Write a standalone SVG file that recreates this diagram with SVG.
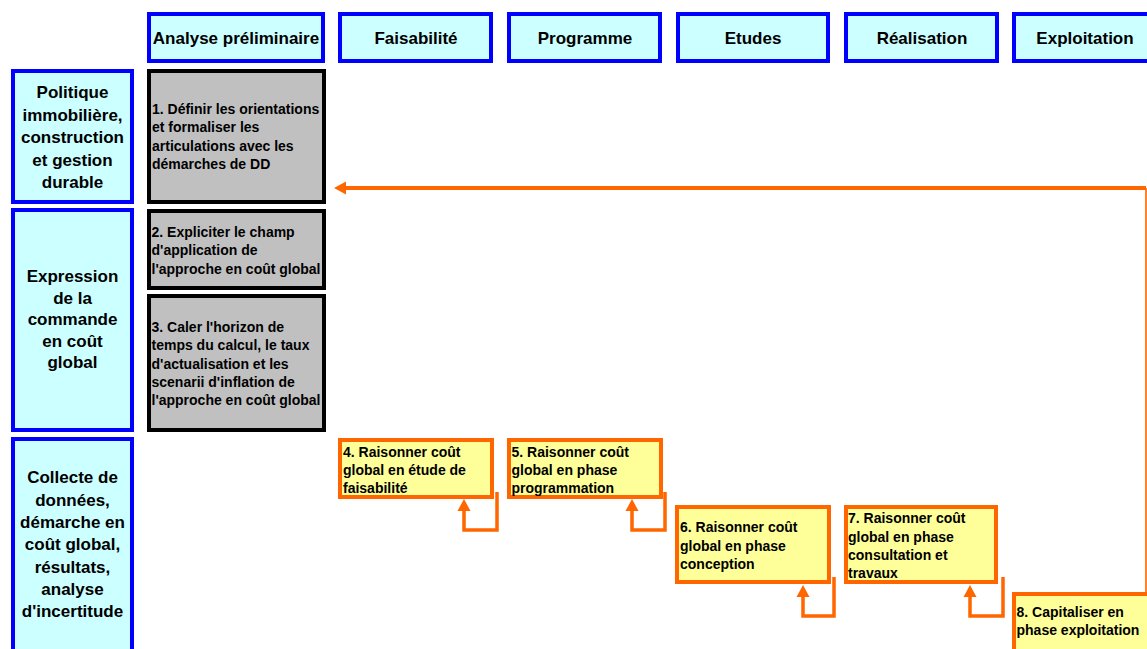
<svg xmlns="http://www.w3.org/2000/svg" width="1147" height="649" viewBox="0 0 1147 649">
<style>
text{font-family:"Liberation Sans",Arial,sans-serif;font-weight:bold;fill:#000}
.hdr rect,.row rect{fill:#CCFFFF;stroke:#0000FF;stroke-width:4}
.hdr text{font-size:17px;text-anchor:middle}
.row text{font-size:17px;text-anchor:middle}
.gray rect{fill:#C0C0C0;stroke:#000;stroke-width:4}
.gray text,.yel text{font-size:14px}
.yel rect{fill:#FFFF99;stroke:#FF6600;stroke-width:4}
.loop{fill:none;stroke:#FF6600;stroke-width:3.5}
</style>
<defs>
<marker id="ah" markerUnits="userSpaceOnUse" markerWidth="13" markerHeight="13" refX="0" refY="6.5" orient="auto" overflow="visible">
<path d="M0,0 L12,6.5 L0,13 z" fill="#FF6600"/>
</marker>
</defs>
<g id="h1" class="hdr"><rect x="149" y="14" width="174" height="47"/><text x="236" y="44">Analyse préliminaire</text></g>
<g id="h2" class="hdr"><rect x="340" y="14" width="151" height="47"/><text x="416" y="44">Faisabilité</text></g>
<g id="h3" class="hdr"><rect x="509" y="14" width="151" height="47"/><text x="585" y="44">Programme</text></g>
<g id="h4" class="hdr"><rect x="678" y="14" width="150" height="47"/><text x="753" y="44">Etudes</text></g>
<g id="h5" class="hdr"><rect x="846" y="14" width="151" height="47"/><text x="922" y="44">Réalisation</text></g>
<g id="h6" class="hdr"><rect x="1014" y="14" width="150" height="47"/><text x="1085" y="44">Exploitation</text></g>

<g id="r1" class="row"><rect x="13" y="71" width="119" height="131"/>
<text x="72.5"><tspan x="72.5" y="98">Politique</tspan><tspan x="72.5" y="120.5">immobilière,</tspan><tspan x="72.5" y="143">construction</tspan><tspan x="72.5" y="165.5">et gestion</tspan><tspan x="72.5" y="188">durable</tspan></text></g>
<g id="r2" class="row"><rect x="13" y="210" width="119" height="220"/>
<text x="72.5"><tspan x="72.5" y="282">Expression</tspan><tspan x="72.5" y="303.5">de la</tspan><tspan x="72.5" y="325">commande</tspan><tspan x="72.5" y="346.5">en coût</tspan><tspan x="72.5" y="368">global</tspan></text></g>
<g id="r3" class="row"><rect x="13" y="439" width="119" height="230"/>
<text x="72.5"><tspan x="72.5" y="483">Collecte de</tspan><tspan x="72.5" y="505.5">données,</tspan><tspan x="72.5" y="528">démarche en</tspan><tspan x="72.5" y="550">coût global,</tspan><tspan x="72.5" y="572.5">résultats,</tspan><tspan x="72.5" y="595">analyse</tspan><tspan x="72.5" y="617">d'incertitude</tspan></text></g>

<g id="n1" class="gray"><rect x="149" y="71" width="175" height="131"/>
<text><tspan x="152" y="114">1. Définir les orientations</tspan><tspan x="152" y="132.3">et formaliser les</tspan><tspan x="152" y="150.6">articulations avec les</tspan><tspan x="152" y="168.9">démarches de DD</tspan></text></g>
<g id="n2" class="gray"><rect x="149" y="211" width="175" height="77"/>
<text><tspan x="151.5" y="237">2. Expliciter le champ</tspan><tspan x="151.5" y="255.3">d'application de</tspan><tspan x="151.5" y="273.6">l'approche en coût global</tspan></text></g>
<g id="n3" class="gray"><rect x="149" y="296" width="175" height="134"/>
<text><tspan x="151.5" y="332">3. Caler l'horizon de</tspan><tspan x="151.5" y="350.3">temps du calcul, le taux</tspan><tspan x="151.5" y="368.6">d'actualisation et les</tspan><tspan x="151.5" y="386.9">scenarii d'inflation de</tspan><tspan x="151.5" y="405.2">l'approche en coût global</tspan></text></g>

<g id="n4" class="yel"><rect x="340" y="440" width="152" height="57"/>
<text><tspan x="343" y="456.5">4. Raisonner coût</tspan><tspan x="343" y="475">global en étude de</tspan><tspan x="343" y="493">faisabilité</tspan></text></g>
<g id="n5" class="yel"><rect x="509" y="440" width="152" height="57"/>
<text><tspan x="511.5" y="456.5">5. Raisonner coût</tspan><tspan x="511.5" y="475">global en phase</tspan><tspan x="511.5" y="493">programmation</tspan></text></g>
<g id="n6" class="yel"><rect x="677" y="507" width="152" height="75"/>
<text><tspan x="680" y="532">6. Raisonner coût</tspan><tspan x="680" y="550.5">global en phase</tspan><tspan x="680" y="569">conception</tspan></text></g>
<g id="n7" class="yel"><rect x="846" y="507" width="150" height="75"/>
<text><tspan x="848" y="523">7. Raisonner coût</tspan><tspan x="848" y="541.5">global en phase</tspan><tspan x="848" y="560">consultation et</tspan><tspan x="848" y="578">travaux</tspan></text></g>
<g id="n8" class="yel"><rect x="1014" y="594" width="150" height="70"/>
<text><tspan x="1016.5" y="617">8. Capitaliser en</tspan><tspan x="1016.5" y="635">phase exploitation</tspan></text></g>

<g id="connectors">
<path class="loop" d="M497,492 V530 H464 V511" marker-end="url(#ah)"/>
<path class="loop" d="M665,492 V530 H632 V511" marker-end="url(#ah)"/>
<path class="loop" d="M834,577 V616 H803 V597" marker-end="url(#ah)"/>
<path class="loop" d="M1003,577 V616 H970 V597" marker-end="url(#ah)"/>
<path d="M1146,592 V188" fill="none" stroke="#FF7F2A" stroke-width="2"/>
<path d="M1146,188 H346" fill="none" stroke="#FF6600" stroke-width="4" marker-end="url(#ah)"/>
</g>
</svg>
